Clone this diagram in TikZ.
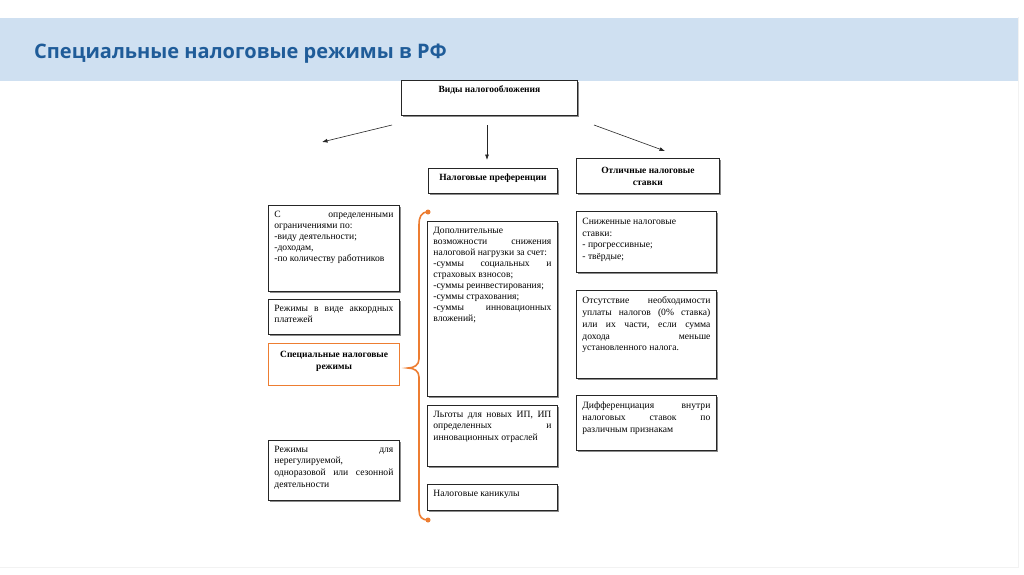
\documentclass[tikz,border=0pt]{standalone}
\usepackage{fontspec}
\setmainfont{Liberation Serif}
\newfontfamily\titlefont{Open Sans}
\usetikzlibrary{arrows.meta,shadows}
\definecolor{band}{HTML}{CFE0F1}
\definecolor{ttl}{HTML}{1F5C99}
\definecolor{org}{HTML}{ED7D31}
\newcommand\bxt[3]{\parbox[c][#2pt][t]{#1pt}{\vspace*{5.5pt}#3}}
\newcommand\bxc[4]{\parbox[c][#2pt][t]{#1pt}{\vspace*{#3pt}\centering\bfseries\fontsize{9.5}{12}\selectfont #4\par}}
\tikzset{
  plainbox/.style={draw=black!85, line width=0.8pt, fill=white, inner xsep=6pt, inner ysep=0pt,
    anchor=north west, font=\fontsize{9.6}{11.8}\selectfont},
  box/.style={plainbox,
    drop shadow={shadow xshift=1.2pt, shadow yshift=-1.2pt, opacity=0.45, fill=black}},
  tightbox/.style={box, font=\fontsize{9.6}{11}\selectfont},
  obox/.style={plainbox, draw=org, line width=1.2pt},
  arr/.style={-{Latex[length=5.5pt,width=4pt]}, line width=0.6pt, black!85},
  brace/.style={draw=org, line width=1.6pt, line cap=round},
  bdot/.style={circle, fill=org, inner sep=0pt, minimum size=5pt}
}
\begin{document}
\begin{tikzpicture}[x=1pt,y=-1pt]
\useasboundingbox (0,0) rectangle (1024,574);
\fill[white] (0,0) rectangle (1024,574);
\draw[black!5, line width=1pt] (1018,17) -- (1018,567) -- (0,567);
\fill[band] (0,18) rectangle (1018,81);
\node[anchor=base west, text=ttl, font=\titlefont\bfseries\fontsize{20}{22}\selectfont, inner sep=0pt] (title) at (34,58) {Специальные налоговые режимы в РФ};

% top
\node[box] (top) at (401,80) {\bxc{164}{35}{5}{Виды налогообложения}};
\coordinate (a1s) at (392,125); \coordinate (a1e) at (322,142);
\coordinate (a2s) at (487,125); \coordinate (a2e) at (487,160);
\coordinate (a3s) at (594,125); \coordinate (a3e) at (665,151);
\draw[arr] (a1s) -- (a1e);
\draw[arr] (a2s) -- (a2e);
\draw[arr] (a3s) -- (a3e);

% headers
\node[box] (pref) at (428,168) {\bxc{117}{25}{6}{Налоговые преференции}};
\node[box] (rates) at (576,158) {\bxc{131}{35}{9}{Отличные налоговые\\ставки}};

% left column
\node[tightbox] (l1) at (268,205) {\bxt{119}{86}{С\hfill определенными\\\mbox{ограничениями по:}\\\mbox{-виду деятельности;}\\-доходам,\\\mbox{-по количеству работников}}};
\node[box] (l2) at (268,299) {\bxt{119}{35}{Режимы\hfill в\hfill виде\hfill аккордных\\платежей}};
\node[obox] (l3) at (268,343) {\bxc{119}{42}{8}{Специальные налоговые\\режимы}};
\node[box] (l4) at (268,440) {\bxt{119}{60}{Режимы\hfill для\\нерегулируемой,\\одноразовой\hfill или\hfill сезонной\\деятельности}};

% middle column
\node[tightbox] (m1) at (427,221) {\bxt{118}{175}{Дополнительные\\возможности\hfill снижения\\\mbox{налоговой нагрузки за счет:}\\-суммы\hfill социальных\hfill и\\\mbox{страховых взносов;}\\\mbox{-суммы реинвестирования;}\\\mbox{-суммы страхования;}\\-суммы\hfill инновационных\\вложений;}};
\node[box] (m2) at (427,405) {\bxt{118}{61}{Льготы\hfill для\hfill новых\hfill ИП,\hfill ИП\\определенных\hfill и\\\mbox{инновационных отраслей}}};
\node[box] (m3) at (427,484) {\bxt{118}{26}{\mbox{Налоговые каникулы}}};

% right column
\node[box] (r1) at (576,211) {\bxt{128}{61}{\vspace*{1pt}\mbox{Сниженные налоговые}\\ставки:\\- прогрессивные;\\- твёрдые;}};
\node[box] (r2) at (576,290) {\bxt{128}{88}{\vspace*{1pt}Отсутствие\hfill необходимости\\уплаты\hfill налогов\hfill (0\%\hfill ставка)\\или\hfill их\hfill части,\hfill если\hfill сумма\\дохода\hfill меньше\\\mbox{установленного налога.}}};
\node[box] (r3) at (576,395) {\bxt{128}{55}{\vspace*{1pt}Дифференциация\hfill внутри\\налоговых\hfill ставок\hfill по\\\mbox{различным признакам}}};

% brace
\node[bdot] (bt) at (428,212) {};
\node[bdot] (bb) at (428,520) {};
\coordinate (tip) at (408,368);
\draw[brace] (bt.center) .. controls (421,212) and (419,217) .. (419,225) -- (419,359)
  .. controls (419,365) and (414,368) .. (tip)
  .. controls (414,368) and (419,371) .. (419,377) -- (419,510)
  .. controls (419,517) and (422,520) .. (bb.center);
\end{tikzpicture}
\end{document}
